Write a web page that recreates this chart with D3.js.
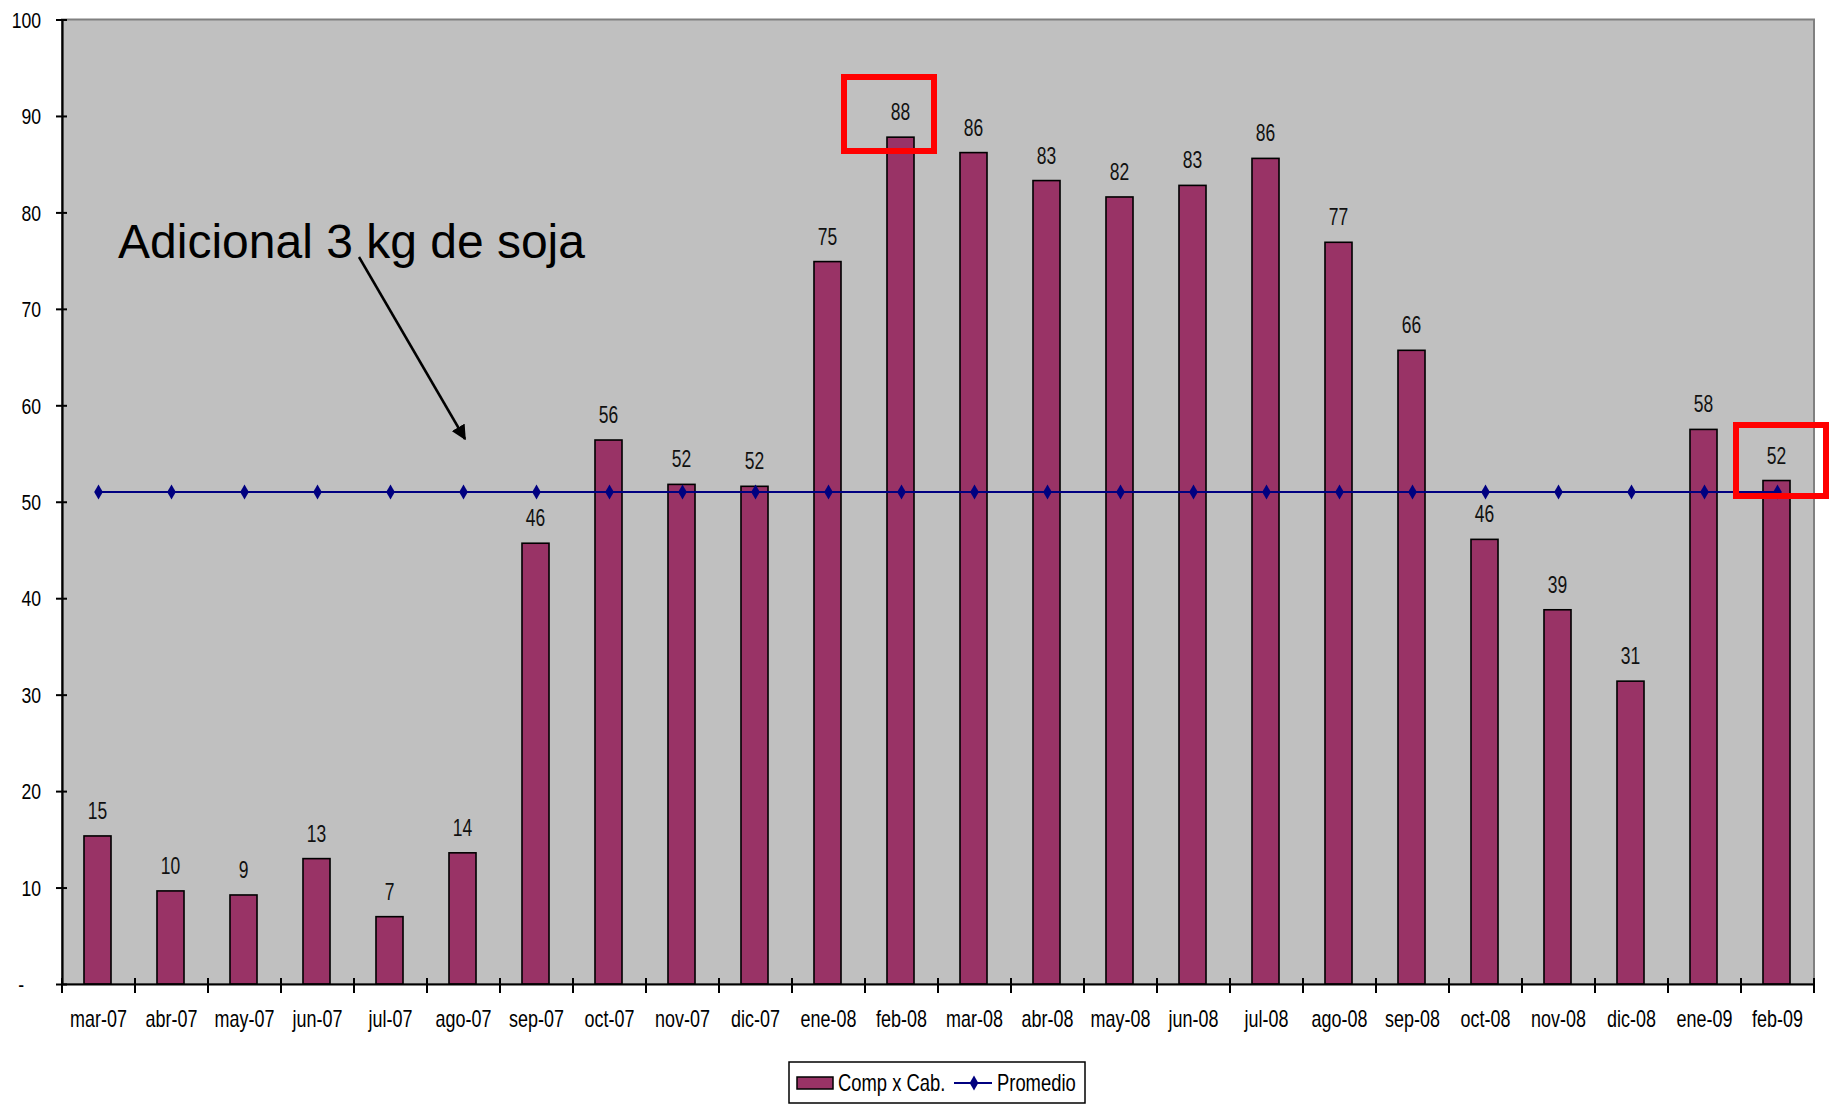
<!DOCTYPE html>
<html>
<head>
<meta charset="utf-8">
<script src="https://cdn.jsdelivr.net/npm/d3@7"></script>
<style>
  html, body { margin: 0; padding: 0; background: #ffffff; }
  svg { display: block; font-family: "Liberation Sans", Arial, sans-serif; }
</style>
</head>
<body>
<svg id="chart" width="1829" height="1105"></svg>
<script>
const categories = ["mar-07","abr-07","may-07","jun-07","jul-07","ago-07","sep-07","oct-07","nov-07","dic-07",
  "ene-08","feb-08","mar-08","abr-08","may-08","jun-08","jul-08","ago-08","sep-08","oct-08","nov-08","dic-08","ene-09","feb-09"];
const compXCab = [15.35, 9.65, 9.23, 13.0, 6.98, 13.6, 45.7, 56.4, 51.8, 51.6,
  74.9, 87.8, 86.2, 83.3, 81.6, 82.8, 85.6, 76.9, 65.7, 46.1, 38.8, 31.4, 57.5, 52.2];
const promedio = [51.0, 51.0, 51.0, 51.0, 51.0, 51.0, 51.0, 51.0, 51.0, 51.0, 51.0, 51.0,
  51.0, 51.0, 51.0, 51.0, 51.0, 51.0, 51.0, 51.0, 51.0, 51.0, 51.0, 51.0];
const yTicks = [0, 10, 20, 30, 40, 50, 60, 70, 80, 90, 100];
const yTickLabels = ["-", "10", "20", "30", "40", "50", "60", "70", "80", "90", "100"];
const seriesNames = ["Comp x Cab.", "Promedio"];
const annotationText = "Adicional 3 kg de soja";
const highlighted = ["feb-08", "feb-09"];

const svg = d3.select("#chart");
const L = 62, R = 1814, T = 19.5, B = 984;
const barColor = "#993366", lineColor = "#000080";
const NARROW = 0.78;

const x = d3.scaleBand().domain(categories).range([L, R]).paddingInner(0).paddingOuter(0);
const y = d3.scaleLinear().domain([0, 100]).range([B, T]);
const barW = x.bandwidth() * 0.37;
const cx = (c) => x(c) + x.bandwidth() / 2;

// plot area
svg.append("rect").attr("x", L).attr("y", T).attr("width", R - L).attr("height", B - T)
  .attr("fill", "#c0c0c0").attr("stroke", "#808080").attr("stroke-width", 2);

// bars
svg.append("g").selectAll("rect").data(categories).join("rect")
  .attr("x", (d) => cx(d) - barW / 2 - 1)
  .attr("y", (d, i) => y(compXCab[i]))
  .attr("width", barW)
  .attr("height", (d, i) => B - y(compXCab[i]))
  .attr("fill", barColor).attr("stroke", "#000").attr("stroke-width", 1.6);

// value labels
svg.append("g").selectAll("text").data(categories).join("text")
  .attr("transform", (d, i) => `translate(${cx(d) - 1},${y(compXCab[i]) - 17}) scale(0.76,1)`)
  .attr("text-anchor", "middle").attr("font-size", 23).attr("fill", "#111")
  .text((d, i) => d3.format(".0f")(compXCab[i]));

// promedio line
const line = d3.line().x((d, i) => cx(categories[i])).y((d) => y(d));
svg.append("path").datum(promedio).attr("d", line)
  .attr("fill", "none").attr("stroke", lineColor).attr("stroke-width", 2);
const diamond = d3.symbol().type(d3.symbolDiamond).size(65);
svg.append("g").selectAll("path").data(promedio).join("path")
  .attr("transform", (d, i) => `translate(${cx(categories[i])},${y(d)})`)
  .attr("d", diamond).attr("fill", lineColor);

// y axis
const yAxis = d3.axisLeft(y).tickValues(yTicks).tickSize(0).tickFormat((d, i) => yTickLabels[i]);
const gy = svg.append("g").attr("transform", `translate(${L},0)`).call(yAxis).attr("font-family", null);
gy.select(".domain").attr("stroke", "#000").attr("stroke-width", 2.2);
gy.selectAll(".tick line").remove();
gy.selectAll(".tick").append("line").attr("x1", -6).attr("x2", 5).attr("stroke", "#000").attr("stroke-width", 2);
gy.selectAll(".tick text").attr("font-size", 22).attr("fill", "#000")
  .attr("x", 0).attr("dy", "0.35em")
  .attr("transform", (d) => `translate(${d === 0 ? -38 : -21},0) scale(0.8,1)`);

// x axis
const xAxis = d3.axisBottom(x).tickSize(0);
const gx = svg.append("g").attr("transform", `translate(0,${B})`).call(xAxis).attr("font-family", null);
gx.select(".domain").attr("stroke", "#000").attr("stroke-width", 2.2);
gx.selectAll(".tick line").remove();
gx.selectAll(".tick text").attr("font-size", 23).attr("fill", "#000")
  .attr("y", 0).attr("dy", 0).attr("transform", `translate(0,43) scale(${NARROW},1)`);
const boundaries = categories.map((c) => x(c)).concat([R]);
gx.append("g").selectAll("line").data(boundaries).join("line")
  .attr("x1", (d) => d).attr("x2", (d) => d).attr("y1", -6).attr("y2", 9)
  .attr("stroke", "#000").attr("stroke-width", 2);

// annotation
svg.append("text").attr("x", 118).attr("y", 258)
  .attr("font-size", 48).attr("fill", "#000").text(annotationText);
svg.append("defs").append("marker").attr("id", "arrow").attr("viewBox", "0 0 10 10")
  .attr("refX", 9).attr("refY", 5).attr("markerWidth", 6).attr("markerHeight", 6)
  .attr("markerUnits", "strokeWidth").attr("orient", "auto")
  .append("path").attr("d", "M0,0 L10,5 L0,10 z").attr("fill", "#000");
svg.append("line").attr("x1", 359).attr("y1", 257).attr("x2", 465).attr("y2", 439)
  .attr("stroke", "#000").attr("stroke-width", 2.5).attr("marker-end", "url(#arrow)");

// highlight boxes
const hb = [
  { cat: highlighted[0], left: 844, right: 934, top: 77, bottom: 151 },
  { cat: highlighted[1], left: 1736, right: 1826, top: 425, bottom: 496 }
];
svg.append("g").selectAll("rect").data(hb).join("rect")
  .attr("x", (d) => d.left).attr("y", (d) => d.top)
  .attr("width", (d) => d.right - d.left).attr("height", (d) => d.bottom - d.top)
  .attr("fill", "none").attr("stroke", "#ff0000").attr("stroke-width", 6);

// legend
const lg = svg.append("g");
lg.append("rect").attr("x", 789).attr("y", 1062).attr("width", 296).attr("height", 41)
  .attr("fill", "#fff").attr("stroke", "#000").attr("stroke-width", 1.5);
lg.append("rect").attr("x", 797).attr("y", 1077).attr("width", 36).attr("height", 12)
  .attr("fill", barColor).attr("stroke", "#000").attr("stroke-width", 1.5);
lg.append("text").attr("transform", "translate(838,1091) scale(0.8,1)").attr("font-size", 23)
  .attr("fill", "#000").text(seriesNames[0]);
lg.append("line").attr("x1", 954).attr("x2", 992).attr("y1", 1083).attr("y2", 1083)
  .attr("stroke", lineColor).attr("stroke-width", 2);
lg.append("path").attr("transform", "translate(974,1083)").attr("d", diamond).attr("fill", lineColor);
lg.append("text").attr("transform", "translate(997,1091) scale(0.8,1)").attr("font-size", 23)
  .attr("fill", "#000").text(seriesNames[1]);
</script>
</body>
</html>
